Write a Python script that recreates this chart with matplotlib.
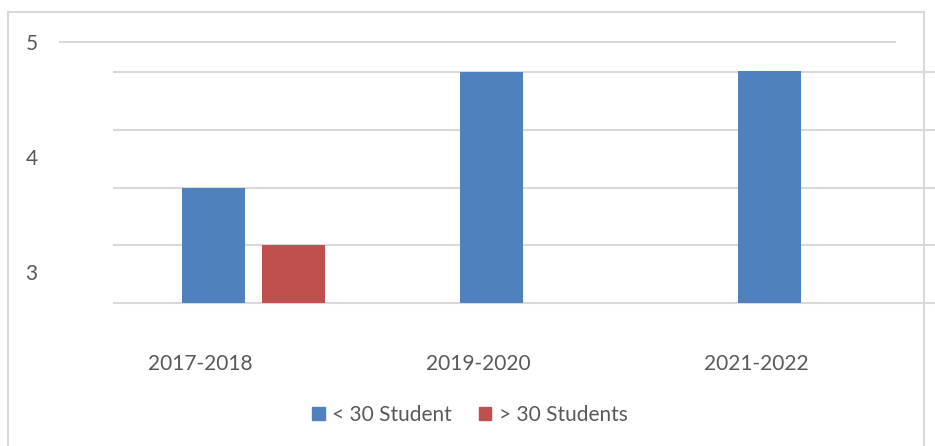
import numpy as np
import matplotlib
matplotlib.use("Agg")
import matplotlib.pyplot as plt
from matplotlib.patches import Rectangle, Patch

years = ["2017-2018", "2019-2020", "2021-2022"]
under_30 = [3.5, 4.5, 4.51]
over_30 = [3.0, np.nan, np.nan]
series_names = ["< 30 Student", "> 30 Students"]
outer_ticks = [3, 4, 5]
inner_grid = [2.5, 3.0, 3.5, 4.0, 4.5]

blue = "#4F81BD"
red = "#C0504D"
grey_txt = "#595959"
grid_c = "#D9D9D9"

plt.rcParams['font.family'] = ['Lato', 'DejaVu Sans']

W, H = 935, 446
fig = plt.figure(figsize=(W / 100, H / 100), dpi=100)

def box(x0, y0, x1, y1):
    # pixel box -> figure fraction [left, bottom, width, height]
    return [x0 / W, 1 - y1 / H, (x1 - x0) / W, (y1 - y0) / H]

# outer chart border
fig.patches.append(Rectangle((8 / W, -0.05), (924 - 8) / W, 1.05 - 12 / H,
                             transform=fig.transFigure, fill=False,
                             edgecolor=grid_c, linewidth=1.5))

# value axis with the 3/4/5 labels and the lone top gridline
ax2 = fig.add_axes(box(60, 42, 895, 303))
ax2.set_ylim(2.73, 5.0)
ax2.set_xlim(0, 1)
ax2.axhline(5, color=grid_c, linewidth=1.5, clip_on=False)
ax2.set_yticks(outer_ticks)
ax2.set_yticklabels([str(t) for t in outer_ticks], fontsize=15, color=grey_txt)
ax2.tick_params(axis="y", length=0, pad=16)
ax2.set_xticks([])
for s in ax2.spines.values():
    s.set_visible(False)
ax2.patch.set_visible(False)

# plot area with bars
ax = fig.add_axes(box(114, 66, 935, 303))
x = np.arange(len(years))
ax.set_xlim((114 - 200) / 278, (935 - 200) / 278)
ax.set_ylim(2.5, 2.5 + (303 - 66) / 231 * 2)
for g in inner_grid:
    ax.axhline(g, color=grid_c, linewidth=1.5, zorder=0, clip_on=False)
bw = 63 / 278
ax.bar(x + 0.0486, np.array(under_30) - 2.5, bottom=2.5, width=bw, color=blue, zorder=2)
ax.bar(x + 0.338, np.array(over_30) - 2.5, bottom=2.5, width=bw, color=red, zorder=2)
ax.set_xticks(x)
ax.set_xticklabels(years, fontsize=15, color=grey_txt)
ax.tick_params(axis="x", length=0, pad=37)
ax.set_yticks([])
for s in ax.spines.values():
    s.set_visible(False)
ax.patch.set_visible(False)

handles = [Patch(color=blue, label=series_names[0]),
           Patch(color=red, label=series_names[1])]
fig.legend(handles=handles, loc="center", bbox_to_anchor=(470 / W, 1 - 415 / H),
           ncol=2, frameon=False, fontsize=15, labelcolor=grey_txt,
           handlelength=0.6, handleheight=0.6, handletextpad=0.35,
           columnspacing=1.3, borderpad=0)

fig.savefig("out.png", dpi=100)
